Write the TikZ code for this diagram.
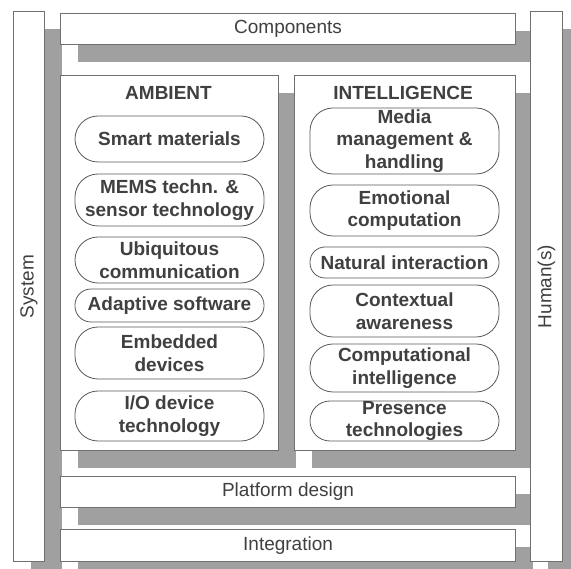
\documentclass[tikz,border=0pt]{standalone}
\usepackage{fontspec}
\setmainfont{Liberation Sans}
\usetikzlibrary{shadows}
\definecolor{shadowgray}{HTML}{A0A0A0}
\definecolor{linegray}{HTML}{707070}
\definecolor{pillgray}{HTML}{5A5A5A}
\definecolor{textgray}{HTML}{404040}
\tikzset{
  panel/.style={draw=linegray, line width=1.1pt, fill=white, anchor=north west, inner sep=0pt,
    drop shadow={shadow xshift=17pt, shadow yshift=-17pt, fill=shadowgray, opacity=1}},
  lbl/.style={text=textgray, font=\fontsize{19pt}{22.5pt}\selectfont, inner sep=0pt},
  ttl/.style={text=textgray, font=\fontsize{19pt}{22.5pt}\selectfont\bfseries, inner sep=0pt},
  pill/.style={draw=pillgray, line width=0.8pt, fill=white, rounded corners=23pt,
    minimum width=189pt, text=textgray, align=center, inner sep=0pt,
    font=\fontsize{19pt}{22.5pt}\selectfont\bfseries}
}
\begin{document}
\begin{tikzpicture}[x=1pt,y=-1pt]
\useasboundingbox (0,0) rectangle (571,569);
% frames
\node[panel, minimum width=31pt, minimum height=550pt] (sys) at (13,11) {};
\node[panel, minimum width=455pt, minimum height=31pt] (comp) at (60,13) {};
\node[panel, minimum width=218pt, minimum height=375pt] (amb) at (60,75) {};
\node[panel, minimum width=221pt, minimum height=375pt] (int) at (294,75) {};
\node[panel, minimum width=455pt, minimum height=31pt] (plat) at (60,476) {};
\node[panel, minimum width=455pt, minimum height=32pt] (integ) at (60,529) {};
\node[panel, minimum width=32pt, minimum height=550pt] (hum) at (530,11) {};
% frame labels
\node[lbl, rotate=90] (systxt) at (sys.center) {System};
\node[lbl, rotate=90] (humtxt) at (hum.center) {Human(s)};
\node[lbl] (comptxt) at (comp.center) {Components};
\node[lbl] (plattxt) at (plat.center) {Platform design};
\node[lbl] (integtxt) at (integ.center) {Integration};
\node[ttl] (ambtxt) at (168.5,93) {AMBIENT};
\node[ttl] (inttxt) at (403,93) {INTELLIGENCE};
% ambient pills
\node[pill, minimum height=46pt] (a1) at (169.5,139) {Smart materials};
\node[pill, minimum height=52pt] (a2) at (169.5,200) {MEMS techn. \&\\sensor technology};
\node[pill, minimum height=46pt] (a3) at (169.5,260) {Ubiquitous\\communication};
\node[pill, minimum height=33pt, rounded corners=16pt] (a4) at (169.5,305.5) {Adaptive software};
\node[pill, minimum height=52pt] (a5) at (169.5,353) {Embedded\\devices};
\node[pill, minimum height=50pt] (a6) at (169.5,416) {I/O device\\technology};
% intelligence pills
\node[pill, minimum height=66pt] (i1) at (404.5,141) {Media\\management \&\\handling};
\node[pill, minimum height=51pt] (i2) at (404.5,210.5) {Emotional\\computation};
\node[pill, minimum height=31pt, rounded corners=15pt] (i3) at (404.5,262.5) {Natural interaction};
\node[pill, minimum height=52pt] (i4) at (404.5,311) {Contextual\\awareness};
\node[pill, minimum height=48pt] (i5) at (404.5,368) {Computational\\intelligence};
\node[pill, minimum height=40pt, rounded corners=20pt] (i6) at (404.5,421) {Presence\\technologies};
\end{tikzpicture}
\end{document}
